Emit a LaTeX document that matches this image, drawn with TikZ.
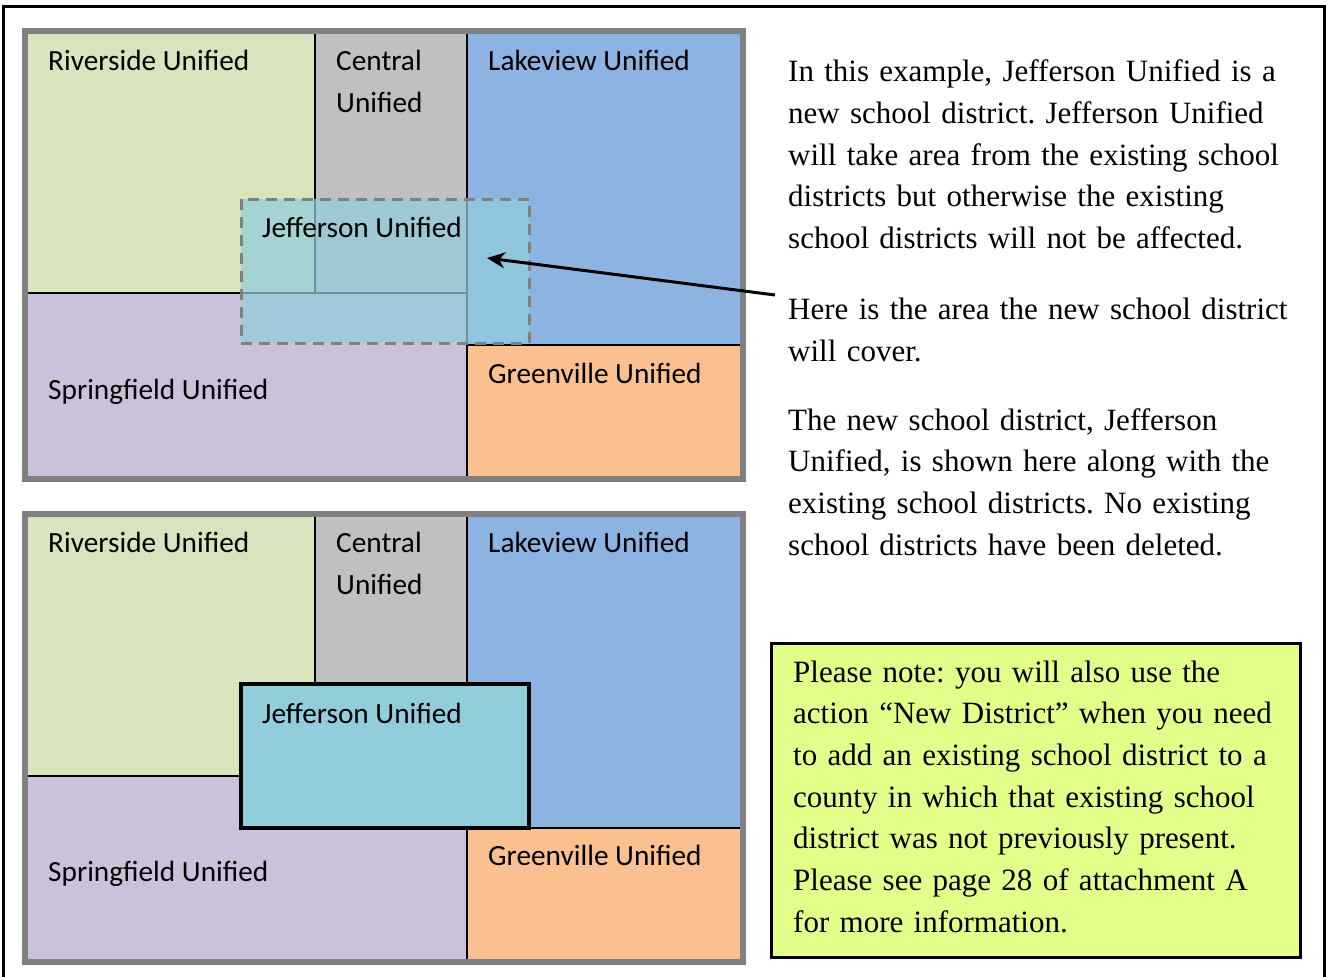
\documentclass[tikz,border=0pt]{standalone}
\usepackage{fontspec}
\setmainfont{Liberation Serif}
\newfontfamily\calfont{Carlito}
\usetikzlibrary{arrows.meta}
\frenchspacing
\definecolor{rivc}{HTML}{D7E4BD}
\definecolor{cenc}{HTML}{C0C0C0}
\definecolor{lakc}{HTML}{8DB3E2}
\definecolor{sprc}{HTML}{CCC1DA}
\definecolor{grec}{HTML}{FAC090}
\definecolor{jefc}{HTML}{92CDDC}
\definecolor{notec}{HTML}{E2FF8A}
\definecolor{framec}{HTML}{808080}
\tikzset{
  maplabel/.style={anchor=base west, inner sep=0pt, font=\calfont\fontsize{29.3}{42}\selectfont, align=left},
  paratext/.style={anchor=base west, inner sep=0pt, font=\frenchspacing\fontsize{31}{41.7}\selectfont, align=left, text width=540pt},
  distborder/.style={line width=2pt, black},
  mapframe/.style={line width=6pt, framec},
  dashedgray/.style={line width=3pt, framec, dash pattern=on 11pt off 7pt},
  jefsolid/.style={line width=3.5pt, black, fill=jefc},
  pointer/.style={line width=3pt, black, -{Stealth[length=18pt,width=16pt]}},
}
\newcommand{\districtmap}[2]{%
  \begin{scope}[shift={(0,#2)}]
    \fill[rivc] (28,34) rectangle (315,293);
    \fill[cenc] (315,34) rectangle (467,293);
    \fill[lakc] (467,34) rectangle (740,345);
    \fill[sprc] (28,293) rectangle (467,476);
    \fill[grec] (467,345) rectangle (740,476);
    \draw[distborder] (315,34) -- (315,293);
    \draw[distborder] (28,293) -- (467,293);
    \draw[distborder] (467,34) -- (467,476);
    \draw[distborder] (467,345) -- (740,345);
    \node[maplabel] (riv#1) at (48,70) {Riverside Unified};
    \node[maplabel, text width=130pt] (cen#1) at (336,70) {Central\\Unified};
    \node[maplabel] (lak#1) at (488,70) {Lakeview Unified};
    \node[maplabel] (spr#1) at (48,399) {Springfield Unified};
    \node[maplabel] (gre#1) at (488,383) {Greenville Unified};
    \draw[mapframe] (25,31) rectangle (743,479);
  \end{scope}}
\begin{document}
\begin{tikzpicture}[x=1pt,y=-1pt]
\useasboundingbox (0,0) rectangle (1326,977);
% outer frame
\draw[line width=3pt, black] (3.5,977) -- (3.5,6) -- (1324,6) -- (1324,977);
% top map
\districtmap{T}{0}
\fill[jefc, opacity=0.72] (241,199) rectangle (529,343);
\draw[dashedgray] (241,199) rectangle (529,343);
\node[maplabel] (jefT) at (262,237) {Jefferson Unified};
% bottom map
\districtmap{B}{482.5}
\draw[jefsolid] (241,684) rectangle (529,828);
\node[maplabel] (jefB) at (262,723) {Jefferson Unified};
% arrow
\coordinate (arrowTail) at (775,295);
\coordinate (arrowTip) at (487,258);
\draw[pointer] (arrowTail) -- (arrowTip);
% right text
\node[paratext] (p1) at (788,81.7) {In this example, Jefferson Unified is a\\new school district. Jefferson Unified\\will take area from the existing school\\districts but otherwise the existing\\school districts will not be affected.};
\node[paratext] (p2) at (788,319.3) {Here is the area the new school district\\will cover.};
\node[paratext] (p3) at (788,430) {The new school district, Jefferson\\Unified, is shown here along with the\\existing school districts. No existing\\school districts have been deleted.};
% note box
\draw[line width=3pt, black, fill=notec] (771,643) rectangle (1300,957.5);
\node[paratext] (note) at (793,682) {Please note: you will also use the\\action ``New District'' when you need\\to add an existing school district to a\\county in which that existing school\\district was not previously present.\\Please see page 28 of attachment A\\for more information.};
\end{tikzpicture}
\end{document}
